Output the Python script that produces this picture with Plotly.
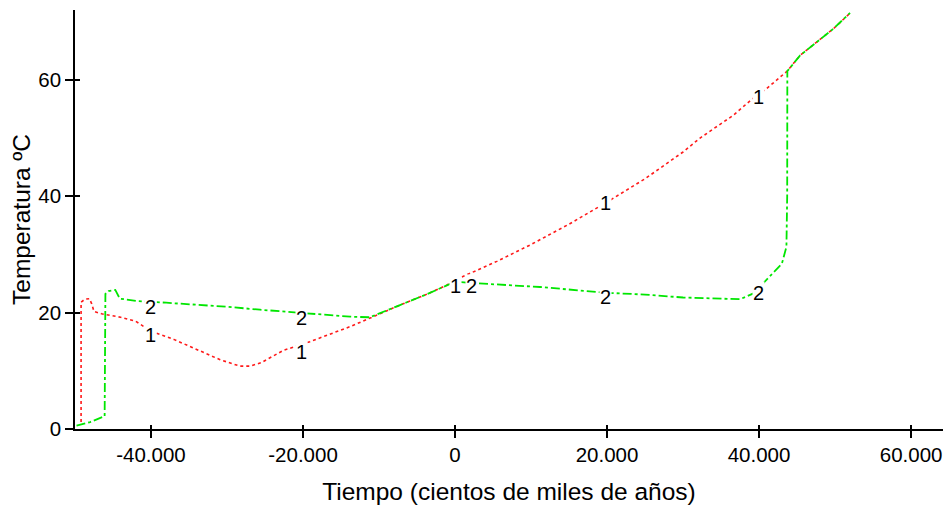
import plotly.graph_objects as go

# Series 1 (red, dotted)
x1 = [-49200, -49200, -48700, -48100, -47800, -47500, -46500, -44000, -42000, -40000,
      -37000, -34400, -32000, -30900, -28300, -27000, -25500, -22600, -19100, -13800,
      -10750, -7240, -4000, -1100, 0, 5500, 10000, 15000, 20000, 25000, 30000, 32240,
      36600, 39000, 41000, 43700, 45400, 47600, 49800, 52000]
y1 = [1.2, 21.8, 22.3, 22.4, 21.5, 20.2, 19.8, 19.2, 18.5, 16.8,
      15.4, 13.9, 12.6, 11.9, 10.8, 10.8, 11.4, 13.5, 15.0, 17.6,
      19.3, 21.3, 23.0, 24.7, 25.6, 28.8, 31.7, 35.2, 39.0, 43.0, 47.6, 50.0,
      53.9, 56.6, 58.5, 61.5, 64.2, 66.5, 68.8, 71.5]

# Series 2 (green, dash-dot)
x2 = [-49800, -48000, -46100, -46000, -45600, -44700, -44100, -41900, -38000, -35300,
      -30000, -25660, -20800, -16900, -13800, -11200, -9870, -7240, -4000, -1100,
      0, 2100, 3300, 11200, 20000, 25000, 30000, 32240, 35000, 37500, 39260, 41000,
      43000, 43600, 43700, 43720, 45400, 47600, 49800, 51970]
y2 = [0.6, 1.2, 2.2, 23.2, 23.7, 23.9, 22.4, 22.0, 21.7, 21.5,
      21.0, 20.5, 20.0, 19.6, 19.3, 19.2, 19.86, 21.3, 23.0, 24.7,
      25.3, 25.1, 25.0, 24.4, 23.4, 23.1, 22.6, 22.5, 22.3, 22.3, 23.3, 25.6,
      28.4, 31.3, 40.0, 61.5, 64.2, 66.5, 68.8, 71.5]

# Curve labels
lab_x = [-40130, -40130, -20260, -20260, 0, 2100, 19740, 19740, 39870, 39870]
lab_y = [16.15, 21.0, 13.2, 19.1, 24.6, 24.6, 38.8, 22.7, 57.0, 23.4]
lab_t = ["1", "2", "1", "2", "1", "2", "1", "2", "1", "2"]

x_tickvals = [-40000, -20000, 0, 20000, 40000, 60000]
x_ticktext = ["-40.000", "-20.000", "0", "20.000", "40.000", "60.000"]
y_tickvals = [0, 20, 40, 60]
y_ticktext = ["0", "20", "40", "60"]

x_range = [-50000, 64200]
y_range = [0, 72]

FONT = "Liberation Sans, Arial, sans-serif"

fig = go.Figure()
fig.add_trace(go.Scatter(x=x1, y=y1, mode="lines",
                         line=dict(color="#ff1a1a", width=1.6, dash="dot"),
                         showlegend=False, hoverinfo="skip"))
fig.add_trace(go.Scatter(x=x2, y=y2, mode="lines",
                         line=dict(color="#00e600", width=1.8, dash="dashdot"),
                         showlegend=False, hoverinfo="skip"))
# invisible trace for the overlay axes (inner tick halves)
fig.add_trace(go.Scatter(x=[x_range[0]], y=[y_range[0]], xaxis="x2", yaxis="y2",
                         mode="markers", marker=dict(opacity=0),
                         showlegend=False, hoverinfo="skip"))

for lx, ly, lt in zip(lab_x, lab_y, lab_t):
    fig.add_annotation(x=lx, y=ly, text=lt, showarrow=False,
                       font=dict(family=FONT, size=20, color="black"),
                       bgcolor="white", borderpad=0, xanchor="center", yanchor="middle")

fig.update_layout(
    width=944, height=508,
    margin=dict(l=75, r=1, t=10, b=79, autoexpand=False),
    paper_bgcolor="white", plot_bgcolor="white",
    font=dict(family=FONT, color="black"),
    xaxis=dict(range=x_range, tickvals=x_tickvals, ticktext=x_ticktext,
               showline=True, linecolor="black", linewidth=1.5,
               ticks="outside", ticklen=7, tickwidth=1.5, tickcolor="black",
               showgrid=False, zeroline=False, automargin=False,
               tickfont=dict(family=FONT, size=20.5, color="black"),
               title=dict(text="Tiempo (cientos de miles de años)",
                          font=dict(family=FONT, size=24.5, color="black"), standoff=18)),
    yaxis=dict(range=y_range, tickvals=y_tickvals, ticktext=y_ticktext,
               showline=True, linecolor="black", linewidth=1.5,
               ticks="outside", ticklen=8, tickwidth=1.5, tickcolor="black",
               showgrid=False, zeroline=False, automargin=False,
               tickfont=dict(family=FONT, size=20.5, color="black"),
               title=dict(text="Temperatura ºC",
                          font=dict(family=FONT, size=24.5, color="black"), standoff=1)),
    xaxis2=dict(range=x_range, overlaying="x", anchor="y2", side="bottom",
                tickvals=x_tickvals, ticks="inside", ticklen=4, tickwidth=1.5,
                tickcolor="black", showticklabels=False, showgrid=False,
                zeroline=False, showline=False, automargin=False),
    yaxis2=dict(range=y_range, overlaying="y", anchor="x2", side="left",
                tickvals=y_tickvals, ticks="inside", ticklen=5, tickwidth=1.5,
                tickcolor="black", showticklabels=False, showgrid=False,
                zeroline=False, showline=False, automargin=False),
)

fig.write_html(
    "out.html",
    config={"displayModeBar": False},
    post_script="document.body.style.margin='0';document.body.style.overflow='hidden';",
)
